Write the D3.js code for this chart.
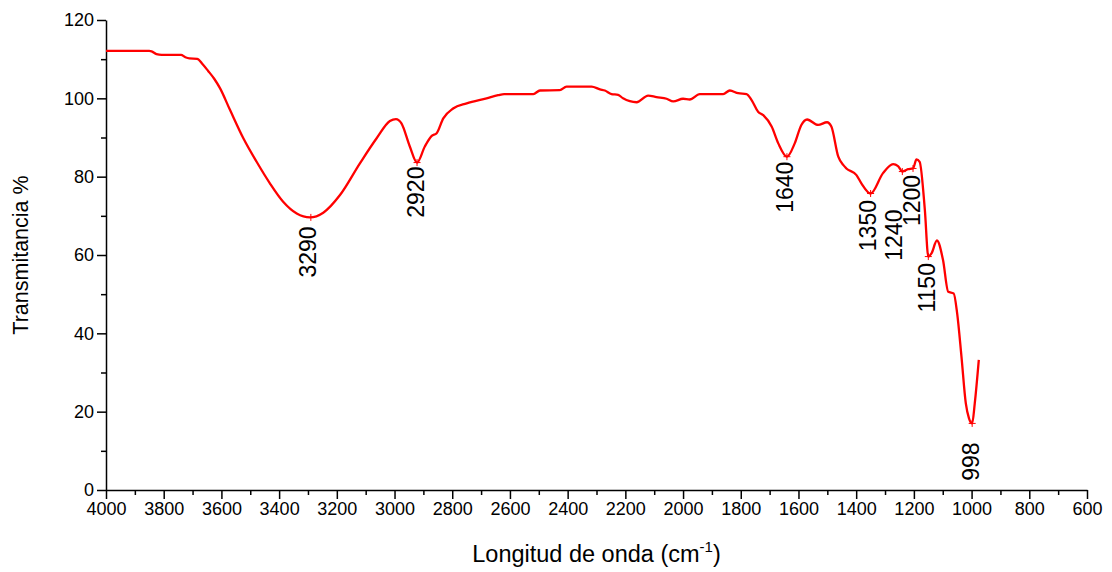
<!DOCTYPE html>
<html>
<head>
<meta charset="utf-8">
<script src="https://cdn.jsdelivr.net/npm/d3@7"></script>
<style>
  html, body { margin: 0; padding: 0; background: #fff; }
  svg { display: block; }
  text { font-family: "Liberation Sans", Arial, sans-serif; fill: #000; }
</style>
</head>
<body>
<svg id="chart" width="1112" height="572"></svg>
<script>
// ---- Data ----
const wavenumber = [4000, 3850, 3842, 3825, 3807, 3740, 3725, 3711, 3684, 3665, 3646, 3625, 3605, 3570, 3524, 3478, 3432, 3386, 3339, 3293, 3247, 3189, 3120, 3062, 3016, 2995, 2976, 2947, 2922, 2895, 2871, 2854, 2831, 2797, 2750, 2681, 2641, 2620, 2519, 2496, 2427, 2404, 2317, 2288, 2271, 2248, 2225, 2208, 2161, 2121, 2092, 2057, 2034, 2000, 1977, 1942, 1861, 1838, 1809, 1780, 1763, 1740, 1722, 1693, 1670, 1640, 1613, 1590, 1570, 1532, 1501, 1486, 1462, 1445, 1434, 1399, 1382, 1350, 1307, 1272, 1255, 1240, 1220, 1203, 1191, 1180, 1162, 1150, 1139, 1120, 1099, 1081, 1062, 1050, 1035, 1020, 1009, 998, 989, 975];
const transmittance = [112.1, 112.1, 112.0, 111.3, 111.1, 111.1, 110.5, 110.2, 110.1, 108.7, 107.0, 105.0, 102.6, 97.0, 89.8, 83.8, 78.3, 73.6, 70.6, 69.6, 70.8, 75.3, 83.4, 89.8, 94.2, 94.7, 93.6, 87.7, 83.6, 87.7, 90.4, 91.1, 94.9, 97.4, 98.7, 100.0, 100.8, 101.1, 101.1, 102.0, 102.1, 103.0, 103.0, 102.3, 102.0, 101.1, 100.9, 100.0, 99.0, 100.7, 100.3, 99.9, 99.2, 99.9, 99.7, 101.1, 101.1, 102.0, 101.3, 101.1, 99.6, 96.6, 95.7, 92.8, 88.5, 85.1, 88.5, 93.2, 94.6, 93.2, 93.9, 92.8, 85.1, 83.0, 82.1, 80.4, 78.3, 75.7, 80.9, 83.2, 82.7, 81.3, 81.9, 82.1, 84.4, 83.8, 71.5, 59.6, 60.4, 63.7, 58.7, 50.6, 50.2, 45.1, 34.0, 22.1, 18.3, 17.0, 22.1, 33.2];

const peakWn    = [3290, 2922, 1640, 1350, 1240, 1203, 1150, 998];
const peakT     = [69.6, 83.6, 85.1, 75.7, 81.3, 82.1, 59.6, 17.0];
const peakLabel = ["3290", "2920", "1640", "1350", "1240", "1200", "1150", "998"];

const xMajorTicks = [4000, 3800, 3600, 3400, 3200, 3000, 2800, 2600, 2400, 2200, 2000, 1800, 1600, 1400, 1200, 1000, 800, 600];
const yMajorTicks = [0, 20, 40, 60, 80, 100, 120];

// label placement (pixel offsets from the marker), layout only
const labelOffset = [[-3, 9], [-1.5, 4], [-1.5, 5], [-2.5, 6.5], [-8, 38], [-1, 6.5], [-1.5, 6.5], [-1, 19]];

// ---- Layout ----
const margin = { left: 106, right: 1112 - 1087, top: 20, bottom: 572 - 490 };
const W = 1112, H = 572;
const svg = d3.select("#chart");

const x = d3.scaleLinear().domain([4000, 600]).range([margin.left, W - margin.right]);
const y = d3.scaleLinear().domain([0, 120]).range([H - margin.bottom, margin.top]);

const xMinor = d3.range(4000, 599, -100).filter(v => !xMajorTicks.includes(v));
const yMinor = d3.range(0, 121, 10).filter(v => !yMajorTicks.includes(v));

// minor ticks
svg.append("g")
  .attr("transform", `translate(0,${y(0)})`)
  .call(d3.axisBottom(x).tickValues(xMinor).tickSize(5).tickFormat(""))
  .call(g => g.select(".domain").remove())
  .call(g => g.selectAll("line").attr("stroke", "#000").attr("stroke-width", 1.5));
svg.append("g")
  .attr("transform", `translate(${x(4000)},0)`)
  .call(d3.axisLeft(y).tickValues(yMinor).tickSize(5).tickFormat(""))
  .call(g => g.select(".domain").remove())
  .call(g => g.selectAll("line").attr("stroke", "#000").attr("stroke-width", 1.5));

// major axes
const xAxis = svg.append("g")
  .attr("transform", `translate(0,${y(0)})`)
  .call(d3.axisBottom(x).tickValues(xMajorTicks).tickSize(9).tickSizeOuter(0).tickPadding(3).tickFormat(d3.format("d")));
const yAxis = svg.append("g")
  .attr("transform", `translate(${x(4000)},0)`)
  .call(d3.axisLeft(y).tickValues(yMajorTicks).tickSize(9).tickSizeOuter(0).tickPadding(3).tickFormat(d3.format("d")));
[xAxis, yAxis].forEach(g => {
  g.select(".domain").attr("stroke", "#000").attr("stroke-width", 1.5);
  g.selectAll("line").attr("stroke", "#000").attr("stroke-width", 1.5);
  g.selectAll("text").style("font-size", "18px").style("font-family", '"Liberation Sans", Arial, sans-serif').attr("fill", "#000");
});

// axis titles
svg.append("text")
  .attr("transform", `translate(28,${(y(0) + y(120)) / 2}) rotate(-90)`)
  .attr("text-anchor", "middle")
  .style("font-size", "21.5px")
  .text("Transmitancia %");

const xt = svg.append("text")
  .attr("x", (x(4000) + x(600)) / 2)
  .attr("y", 562)
  .attr("text-anchor", "middle")
  .style("font-size", "23.5px");
xt.append("tspan").text("Longitud de onda (cm");
xt.append("tspan").attr("dy", -10).style("font-size", "15px").text("-1");
xt.append("tspan").attr("dy", 10).text(")");

// spectrum line
const pts = wavenumber.map((w, i) => [w, transmittance[i]]);
svg.append("path")
  .datum(pts)
  .attr("fill", "none")
  .attr("stroke", "#ff0000")
  .attr("stroke-width", 2.3)
  .attr("stroke-linejoin", "round")
  .attr("d", d3.line().x(d => x(d[0])).y(d => y(d[1])).curve(d3.curveMonotoneX));

// peak markers and labels
peakWn.forEach((w, i) => {
  const px = x(w), py = y(peakT[i]);
  svg.append("path")
    .attr("d", `M${px - 3.5},${py}H${px + 3.5}M${px},${py - 3.5}V${py + 3.5}`)
    .attr("stroke", "#ff0000").attr("stroke-width", 1);
  const [dx, dy] = labelOffset[i];
  svg.append("text")
    .attr("transform", `translate(${px + dx},${py + dy}) rotate(-90)`)
    .attr("text-anchor", "end")
    .attr("dominant-baseline", "central")
    .style("font-size", "23px")
    .text(peakLabel[i]);
});
</script>
</body>
</html>
